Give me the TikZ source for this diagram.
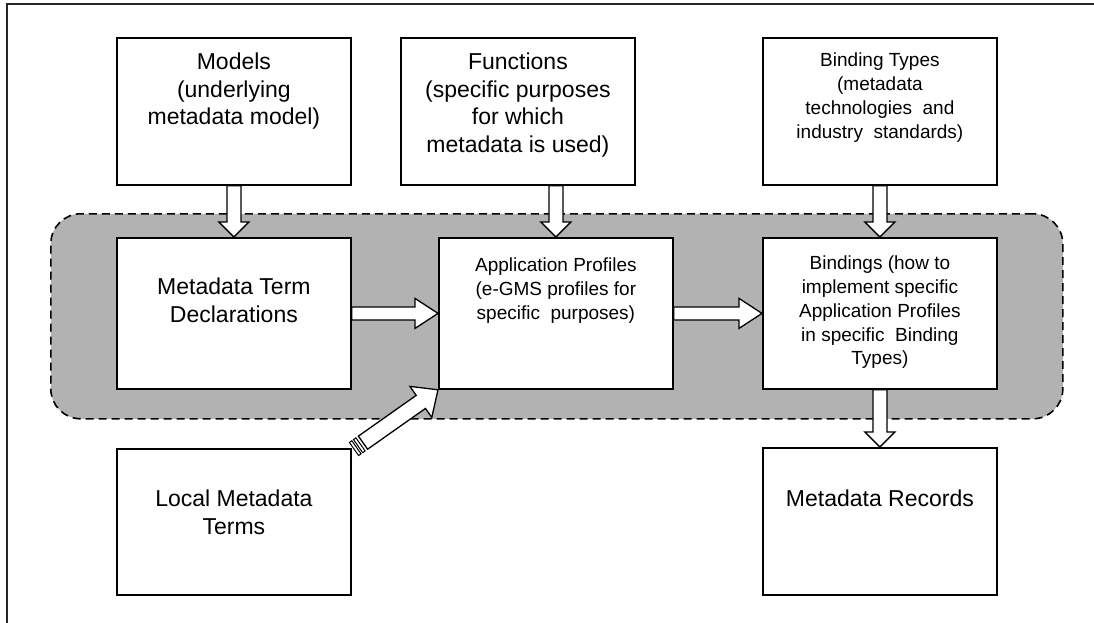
\documentclass[tikz,border=0pt]{standalone}
\usepackage{fontspec}
\setmainfont{Liberation Sans}
\usetikzlibrary{calc}
\definecolor{regiongray}{RGB}{178,178,178}
\tikzset{
  box/.style={draw=black, line width=1.8pt, fill=white, minimum width=234pt, inner sep=0pt, anchor=north west},
  bigtxt/.style={font=\fontsize{23}{27.5}\selectfont, align=center, anchor=north, inner sep=0pt},
  smalltxt/.style={font=\fontsize{19}{23.7}\selectfont, align=center, anchor=north, inner sep=0pt},
  blockarrow/.style={draw=black, fill=white, line width=1.3pt, line join=miter},
  region/.style={draw=black, fill=regiongray, dash pattern=on 8pt off 5pt, line width=1.6pt, rounded corners=30pt, inner sep=0pt, anchor=north west},
  frame/.style={draw=black!85, line width=2pt},
}
\newcommand\fatarrow[6]{% from, to, shaft half, head half, head length, tail offset
  \coordinate (fa-s) at ($(#1)!#6!(#2)$);
  \coordinate (fa-b) at ($(#2)!#5!(#1)$);
  \draw[blockarrow] ($(fa-s)!#3!90:(#2)$) -- ($(fa-b)!#3!90:(#2)$) -- ($(fa-b)!#4!90:(#2)$) -- (#2)
    -- ($(fa-b)!#4!270:(#2)$) -- ($(fa-b)!#3!270:(#2)$) -- ($(fa-s)!#3!270:(#2)$) -- cycle;
}
\newcommand\arrowstripe[5]{% from, to, u1, u2, half
  \coordinate (st-a) at ($(#1)!#3!(#2)$);
  \coordinate (st-b) at ($(#1)!#4!(#2)$);
  \draw[blockarrow, line width=1pt] ($(st-a)!#5!90:(#2)$) -- ($(st-b)!#5!90:(#2)$)
    -- ($(st-b)!#5!270:(#2)$) -- ($(st-a)!#5!270:(#2)$) -- cycle;
}
\begin{document}
\begin{tikzpicture}[x=1pt, y=-1pt]
\useasboundingbox (0,0) rectangle (1094,623);
% outer frame
\coordinate (fr-bl) at (7,623);
\coordinate (fr-tl) at (7,4);
\coordinate (fr-tr) at (1094,4);
\draw[frame] (fr-bl) -- (fr-tl) -- (fr-tr);

% grey region
\node[region, minimum width=1012pt, minimum height=205pt] (core) at (50,213) {};

% boxes
\node[box, minimum height=147pt] (models) at (116,37) {};
\node[box, minimum height=147pt] (functions) at (400,37) {};
\node[box, minimum height=147pt] (btypes) at (762,37) {};
\node[box, minimum height=151pt] (mtd) at (116,237) {};
\node[box, minimum height=151pt] (app) at (438,237) {};
\node[box, minimum height=151pt] (bindings) at (762,237) {};
\node[box, minimum height=146pt] (local) at (116,448) {};
\node[box, minimum height=147pt] (records) at (762,447) {};

% texts
\node[bigtxt] (models-t) at ($(models.north)+(0,16)$) {Models\\(underlying\\metadata model)};
\node[bigtxt] (functions-t) at ($(functions.north)+(0,16)$) {Functions\\(specific purposes\\for which\\metadata is used)};
\node[smalltxt] (btypes-t) at ($(btypes.north)+(0,16)$) {Binding Types\\(metadata\\technologies\ \ and\\industry\ \ standards)};
\node[bigtxt] (mtd-t) at ($(mtd.north)+(0,41)$) {Metadata Term\\Declarations};
\node[smalltxt] (app-t) at ($(app.north)+(0,21)$) {Application Profiles\\(e-GMS profiles for\\specific\ \ purposes)};
\node[smalltxt] (bindings-t) at ($(bindings.north)+(0,19)$) {Bindings (how to\\implement specific\\Application Profiles\\in specific\ \ Binding\\Types)};
\node[bigtxt] (local-t) at ($(local.north)+(0,42)$) {Local Metadata\\Terms};
\node[bigtxt] (records-t) at ($(records.north)+(0,43)$) {Metadata Records};

% arrows
\coordinate (fn-tail) at (app.north |- functions.south);
\fatarrow{models.south}{mtd.north}{7pt}{15pt}{15pt}{0pt}
\fatarrow{fn-tail}{app.north}{7pt}{15pt}{15pt}{0pt}
\fatarrow{btypes.south}{bindings.north}{7pt}{15pt}{15pt}{0pt}
\fatarrow{bindings.south}{records.north}{7pt}{15pt}{15pt}{0pt}
\fatarrow{mtd.east}{app.west}{6.5pt}{15pt}{23pt}{0pt}
\fatarrow{app.east}{bindings.west}{6.5pt}{15pt}{23pt}{0pt}

% striped diagonal arrow
\coordinate (lmt-tail) at (354,449);
\fatarrow{lmt-tail}{app.south west}{8pt}{19pt}{21pt}{11pt}
\arrowstripe{lmt-tail}{app.south west}{0pt}{3pt}{8pt}
\arrowstripe{lmt-tail}{app.south west}{5pt}{8pt}{8pt}
\end{tikzpicture}
\end{document}
